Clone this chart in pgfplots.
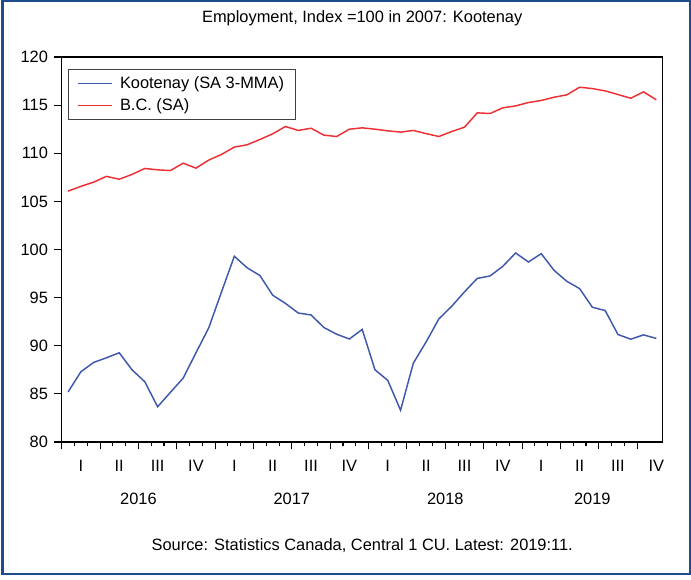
\documentclass[border=0pt]{standalone}
\usepackage{fontspec}
\setmainfont{Liberation Sans}
\usepackage{pgfplots}
\usepackage{pgfplotstable}
\pgfplotsset{compat=1.18}
\definecolor{kblue}{RGB}{62,88,172}
\definecolor{bcred}{RGB}{238,48,52}
\definecolor{framebl}{RGB}{30,76,140}

% monthly index values, 2016:01 .. 2019:11, plotted at month centres
\pgfplotstableread{
x     koot   bc
0.5   85.2   106.07
1.5   87.3   106.56
2.5   88.27  107.0
3.5   88.75  107.6
4.5   89.27  107.3
5.5   87.5   107.8
6.5   86.26  108.42
7.5   83.66  108.28
8.5   85.16  108.2
9.5   86.64  108.97
10.5  89.27  108.45
11.5  91.86  109.29
12.5  95.6   109.88
13.5  99.3   110.64
14.5  98.1   110.88
15.5  97.3   111.43
16.5  95.25  112.02
17.5  94.4   112.78
18.5  93.4   112.37
19.5  93.2   112.6
20.5  91.9   111.88
21.5  91.2   111.74
22.5  90.7   112.5
23.5  91.7   112.64
24.5  87.5   112.5
25.5  86.4   112.33
26.5  83.3   112.2
27.5  88.2   112.37
28.5  90.4   112.04
29.5  92.8   111.74
30.5  94.1   112.26
31.5  95.6   112.71
32.5  97.0   114.2
33.5  97.25  114.13
34.5  98.26  114.72
35.5  99.64  114.92
36.5  98.7   115.27
37.5  99.57  115.48
38.5  97.84  115.82
39.5  96.7   116.07
40.5  95.94  116.86
41.5  94.0   116.72
42.5  93.66  116.48
43.5  91.17  116.1
44.5  90.68  115.72
45.5  91.13  116.38
46.5  90.76  115.55
}\emp

\begin{document}
\fontsize{12.3pt}{14.5pt}\selectfont
\begin{tikzpicture}[x=0.75pt,y=0.75pt]
% page area: 691 x 579 px, plot box lower-left at origin
\path[use as bounding box] (-61.7,-137) rectangle (629.3,442);
\begin{axis}[
    at={(0,0)}, anchor=south west,
    width=450.75pt, height=288.75pt,
    scale only axis,
    xmin=0, xmax=47,
    ymin=80, ymax=120,
    xtick={0,3,...,45},
    xticklabels={},
    minor x tick num=2,
    ytick={80,85,...,120},
    tick align=outside,
    xtick pos=bottom, ytick pos=left,
    major tick length=5.5pt,
    minor tick length=3pt,
    tick style={black, line width=0.8pt},
    axis line style={black, line width=1pt},
    /pgf/number format/assume math mode=true,
    yticklabel style={font=\fontsize{12.3pt}{14pt}\selectfont, xshift=-0.5pt},
    legend style={
        at={(axis description cs:0.0105,0.969)}, anchor=north west,
        draw=black!75, line width=0.8pt,
        font=\fontsize{12.3pt}{14pt}\selectfont,
        inner xsep=6.5pt, inner ysep=3pt,
        row sep=2pt,
    },
    legend cell align=left,
    legend image code/.code={\draw[#1] (0pt,0pt) -- (25.5pt,0pt); \path (29pt,0pt);},
]
\addplot[draw=kblue, line width=1.1pt] table[x=x, y=koot] {\emp};
\addlegendentry{Kootenay (SA 3-MMA)}
\addplot[draw=bcred, line width=1.1pt] table[x=x, y=bc] {\emp};
\addlegendentry{B.C. (SA)}
\end{axis}
% quarter and year labels under the axis
\foreach \k/\q in {0/I,1/II,2/III,3/IV,4/I,5/II,6/III,7/IV,8/I,9/II,10/III,11/IV,12/I,13/II,14/III,15/IV}
    \node[anchor=base, inner sep=0pt] at ({(1.5+3*\k)*12.787},-29) {\q};
\foreach \yr/\xc in {2016/6,2017/18,2018/30,2019/41.5}
    \node[anchor=base, inner sep=0pt] at ({\xc*12.787},-62) {\yr};
\node[anchor=base, inner sep=0pt] at (300.5,419) {Employment, Index =100 in 2007: Kootenay};
\node[anchor=base, inner sep=0pt] at (300.5,-108) {Source: Statistics Canada, Central 1 CU. Latest: 2019:11.};
\draw[framebl, line width=1.9pt] (-59.2,-132) rectangle (628.3,440.8);
\end{tikzpicture}
\end{document}
